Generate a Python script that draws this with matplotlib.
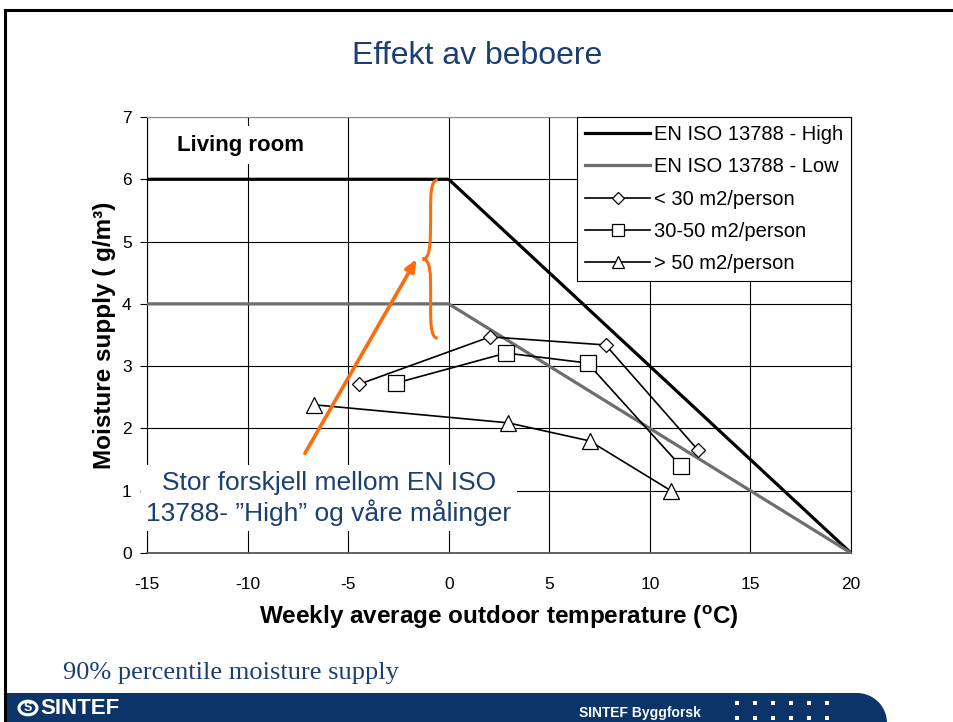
import numpy as np
import matplotlib
matplotlib.use("Agg")
import matplotlib.pyplot as plt
from matplotlib.path import Path
from matplotlib.patches import PathPatch, Circle, Rectangle
from matplotlib.lines import Line2D

# ── Data ──────────────────────────────────────────────────────────────────────
std_temp = [-15, 0, 20]
std_high = [6, 6, 0]
std_low = [4, 4, 0]

temp_lt30 = [-4.45, 2.05, 7.8, 12.4]
ms_lt30 = [2.71, 3.47, 3.34, 1.65]

temp_30_50 = [-2.6, 2.85, 6.9, 11.55]
ms_30_50 = [2.73, 3.21, 3.05, 1.39]

temp_gt50 = [-6.7, 2.95, 7.0, 11.05]
ms_gt50 = [2.38, 2.09, 1.80, 1.00]

labels = ["EN ISO 13788 - High", "EN ISO 13788 - Low",
          "< 30 m2/person", "30-50 m2/person", "> 50 m2/person"]
x_ticks = [-15, -10, -5, 0, 5, 10, 15, 20]
y_ticks = [0, 1, 2, 3, 4, 5, 6, 7]

NAVY = "#0b3468"
TXT_BLUE = "#1b3f73"
ORANGE = "#ff6a0a"

plt.rcParams["font.family"] = ["Liberation Sans", "DejaVu Sans"]
plt.rcParams["axes.unicode_minus"] = False
plt.rcParams["mathtext.fontset"] = "custom"
plt.rcParams["mathtext.rm"] = "Liberation Sans"
plt.rcParams["mathtext.bf"] = "Liberation Sans:bold"

W, H = 954, 722
fig = plt.figure(figsize=(W / 100, H / 100), dpi=100)


def P(x, y):
    """pixel (from top-left) -> figure fraction"""
    return x / W, 1 - y / H


# ── Slide decoration ──────────────────────────────────────────────────────────
fig.add_artist(Line2D([5 / W, 1], [1 - 10 / H] * 2, color="black", lw=2.2,
                      transform=fig.transFigure))
fig.add_artist(Line2D([5 / W] * 2, [1 - 10 / H, 0], color="black", lw=2.2,
                      transform=fig.transFigure))

fig.text(*P(477, 56), "Effekt av beboere", ha="center", va="center",
         fontsize=23, color=TXT_BLUE)
fig.text(*P(63, 673), "90% percentile moisture supply", ha="left", va="center",
         fontsize=19, color=TXT_BLUE, family="Liberation Serif")

# footer band with rounded right end
r = 30
theta = np.linspace(np.pi / 2, 0, 20)
arc = [(857 + r * np.cos(t), 723 - r * np.sin(t)) for t in theta]
verts = [(6, 723), (6, 693)] + arc + [(6, 723)]
verts = [P(x, y) for x, y in verts]
fig.add_artist(PathPatch(Path(verts), facecolor=NAVY, edgecolor="none",
                         transform=fig.transFigure))
for row_y in (703, 718):
    for dx in (737, 755, 773, 791, 809, 827):
        fig.add_artist(Rectangle(P(dx - 2, row_y + 2), 4 / W, 4 / H,
                                 facecolor="white", edgecolor="none",
                                 transform=fig.transFigure))
fig.add_artist(Circle(P(28, 708), 9 / W, facecolor="none", edgecolor="white",
                      lw=2.2, transform=fig.transFigure))
fig.text(*P(28, 708), "S", ha="center", va="center", fontsize=9,
         color="white", fontweight="bold")
fig.text(*P(40, 708), "SINTEF", ha="left", va="center", fontsize=16,
         color="white", fontweight="bold")
fig.text(*P(640, 713), "SINTEF Byggforsk", ha="center", va="center",
         fontsize=10, color="white", fontweight="bold")

# ── Chart ─────────────────────────────────────────────────────────────────────
ax = fig.add_axes([147 / W, 1 - 553 / H, 704 / W, 436 / H])
ax.set_xlim(-15, 20)
ax.set_ylim(0, 7)
ax.set_xticks(x_ticks)
ax.set_yticks(y_ticks)
ax.grid(True, color="black", lw=0.8)
ax.set_axisbelow(True)
ax.tick_params(axis="x", labelsize=12.5, length=0, pad=17)
ax.tick_params(axis="y", labelsize=12.5, length=5, width=0.8, color="black", pad=6)
for s in ("left", "right"):
    ax.spines[s].set_color("black")
    ax.spines[s].set_linewidth(0.8)
ax.spines["top"].set_color("#888888")
ax.spines["bottom"].set_color("#555555")
ax.spines["bottom"].set_linewidth(1.3)

ax.plot(std_temp, std_high, color="black", lw=2.3, label=labels[0], zorder=3)
ax.plot(std_temp, std_low, color="#6e6e6e", lw=2.3, label=labels[1], zorder=3)
mk = dict(color="black", lw=1.2, mfc="white", mec="black", mew=0.9, zorder=4)
ax.plot(temp_lt30, ms_lt30, marker="D", ms=7.5, label=labels[2], **mk)
ax.plot(temp_30_50, ms_30_50, marker="s", ms=11, label=labels[3], **mk)
ax.plot(temp_gt50, ms_gt50, marker="^", ms=11, label=labels[4], **mk)

ax.set_xlabel(r"Weekly average outdoor temperature ($^{\mathbf{o}}$C)",
              fontsize=17.5, fontweight="bold", labelpad=8)
ax.set_ylabel("Moisture supply ( g/m³)", fontsize=17.5, fontweight="bold",
              labelpad=4)

leg = ax.legend(loc="upper right", borderaxespad=0, fontsize=14.5,
                handlelength=3.2, labelspacing=0.66, handletextpad=0.2,
                fancybox=False, framealpha=1, edgecolor="black",
                borderpad=0.4, markerscale=0.8)
leg.get_frame().set_linewidth(0.8)
leg.set_zorder(6)

ax.text(-13.5, 6.55, "Living room", fontsize=16, fontweight="bold",
        ha="left", va="center", zorder=5,
        bbox=dict(facecolor="white", edgecolor="none", pad=6))

ax.text(-5.95, 0.88, "Stor forskjell mellom EN ISO\n13788- \u201dHigh\u201d og våre målinger",
        fontsize=19, color=TXT_BLUE, ha="center", va="center", linespacing=1.2,
        zorder=5, clip_on=False,
        bbox=dict(facecolor="white", edgecolor="none", pad=4))

# orange arrow
ax.annotate("", xy=(-1.6, 4.72), xytext=(-7.15, 1.6),
            arrowprops=dict(arrowstyle="-|>,head_length=0.7,head_width=0.3",
                            color=ORANGE, lw=2.6, shrinkA=0, shrinkB=0),
            zorder=6)

# orange curly brace "{" between the two standard levels
bx_end, bx_spine, bx_tip = -0.55, -0.9, -1.3
by_top, by_mid, by_bot = 5.99, 4.72, 3.45
c = 0.25
brace = [
    (bx_end, by_top), (bx_spine, by_top), (bx_spine, by_top - c), (bx_spine, by_top - 2 * c),
    (bx_spine, by_mid + c), (bx_spine, by_mid), (bx_tip, by_mid),
    (bx_spine, by_mid), (bx_spine, by_mid - c), (bx_spine, by_mid - 2 * c),
    (bx_spine, by_bot + 2 * c), (bx_spine, by_bot + c), (bx_spine, by_bot), (bx_end, by_bot),
]
codes = [Path.MOVETO, Path.CURVE4, Path.CURVE4, Path.CURVE4,
         Path.CURVE4, Path.CURVE4, Path.CURVE4,
         Path.CURVE4, Path.CURVE4, Path.CURVE4,
         Path.LINETO, Path.CURVE4, Path.CURVE4, Path.CURVE4]
ax.add_patch(PathPatch(Path(brace, codes), facecolor="none", edgecolor=ORANGE,
                       lw=2.2, zorder=6))

fig.savefig("out.png", dpi=100)
